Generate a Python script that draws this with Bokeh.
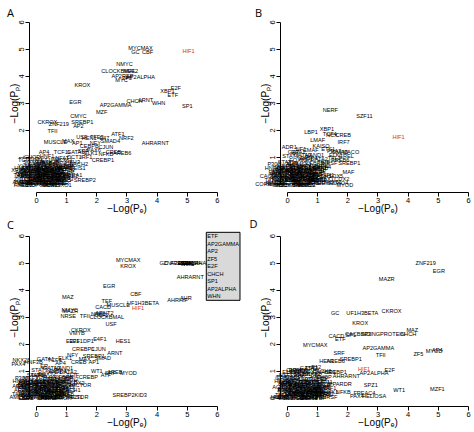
from bokeh.plotting import figure
from bokeh.models import ColumnDataSource, LabelSet, Label, FixedTicker
from bokeh.layouts import row, column
from bokeh.core.properties import value
from bokeh.embed import file_html
from bokeh.resources import INLINE

ticks = [0, 1, 2, 3, 4, 5, 6]
x_title = "\u2212Log(P\u2091)"
y_title = "\u2212Log(P\u209a)"
highlight = "HIF1"

# ---------------- Panel A ----------------
a_names = ["MYCMAX", "GC", "CBF", "HIF1", "NMYC", "CLOCKBMAL", "MEF2", "AP2ALPHA", "AP2REP", "ZF5",
           "MYC", "KROX", "E2F", "XBP1", "ETF", "EGR", "CHCH", "ARNT", "WHN", "SP1",
           "AP2GAMMA", "MZF", "CMYC", "SREBP1", "CKROX", "ZNF219", "AP2", "TFII", "ATF1", "NRF2",
           "AHRARNT", "MUSCLE", "MAX", "USF", "HEN1", "TFE3", "E47", "SMAD4", "AP1", "NFY",
           "CEBPB", "CJUN", "AREB6", "CREBP1", "CREB", "ELK1", "NFKB", "SRF", "AP4", "TCF11",
           "GATA1", "PAX6", "CHOP", "HNF1", "NFAT", "OCT1", "IRF1", "SREBP2", "RORA1", "MEIS1",
           "BACH2", "HFH3",
           "PBX1", "CDP", "TATA", "NF1", "YY1", "SOX9", "GFI1", "PU1", "STAT1", "STAT3",
           "STAT5A", "LHX3", "HOXA3", "MSX1", "NKX25", "PAX4", "HLF", "TEF", "DBP", "E4BP4",
           "CEBPA", "CEBP", "ATF3", "FOXO1", "FOXJ2", "HNF3B", "SRY", "CRX", "TST1", "IK2",
           "NKX61", "TGIF", "XFD1", "VDR", "RFX1", "EN1", "LMO2", "MYB", "HSF1", "CDX2",
           "BRN2", "OCT", "GATA2", "GATA3", "EVI1", "HAND1", "TAL1", "P53", "NFE2", "ER",
           "E12", "ZID", "HMX1", "COUPTF", "PPARG",
           "AML1", "ARP1", "BRACH", "CART1", "CHX10", "CREL", "EF2", "ETS1", "FOXD3", "GATA6",
           "HFH1", "HNF4", "LXR", "MEF3", "NRSF", "PEA3", "PAX2", "ROAZ", "RREB1", "RSRFC4",
           "SOX5", "TBP", "XBP", "ZIC", "AHR", "ALX4", "BARX2", "DLX3", "GSC", "HB9",
           "ISL1", "LEF1", "MRF2", "NKX22", "OTX",
           "ACAAT", "AIRE", "ARNT1", "BCL6", "BLIMP1", "BRCA", "CAP", "CDC5", "CIZ", "CLOX2",
           "COMP1", "CP2", "CRE", "DEAF1", "E2A", "EBOX", "EGR3", "ELF1", "ERR1", "FAC1",
           "FXR", "GABP", "GCM", "GEN", "HEB", "HES", "HIC1", "HMGIY", "HOX13", "HTF",
           "IPF1", "IRF2", "IRF3", "ISRE", "KID3", "LUN2", "MAFB", "MINI19", "MTF1", "MYF5"]
a_x = [3.45, 3.28, 3.68, 5.04, 2.92, 2.72, 3.12, 3.45, 2.85, 3.00,
       2.82, 1.52, 4.62, 4.34, 4.52, 1.29, 3.25, 3.62, 4.05, 5.00,
       2.62, 2.16, 1.39, 1.52, 0.36, 0.74, 1.39, 0.53, 2.70, 2.98,
       3.94, 0.63, 1.05, 1.50, 1.75, 2.00, 2.25, 2.45, 1.35, 1.95,
       1.75, 2.30, 2.84, 2.20, 2.55, 1.80, 2.30, 1.55, 0.25, 0.85,
       1.30, 1.90, -0.15, 0.35, 0.85, 1.25, 1.65, 1.60, 1.20, 1.35,
       1.40, 1.20,
       -0.50, -0.35, -0.55, -0.30, -0.45, -0.20, 0.00, -0.10, 0.05, 0.15,
       0.30, 0.45, 0.30, 0.20, 0.45, 0.55, 0.65, 0.75, 0.80, 0.70,
       0.95, 1.00, 1.00, 0.85, 0.10, -0.20, 0.55, 0.40, 0.25, 0.60,
       0.90, -0.40, -0.60, 0.15, 0.35, 0.70, 0.50, 0.10, -0.05, 0.45,
       0.90, 0.75, 0.00, 0.25, 0.60, -0.25, 0.20, 1.10, 1.15, 0.95,
       0.05, -0.60, 0.65, -0.30, 0.35,
       -0.55, -0.40, -0.25, -0.10, 0.05, 0.20, 0.35, 0.50, 0.65, 0.80,
       0.95, -0.50, -0.30, -0.15, 0.00, 0.15, 0.30, 0.45, 0.60, 0.75,
       0.90, 1.05, -0.45, -0.20, 0.10, 0.25, 0.40, 0.55, 0.70, 0.85,
       -0.35, 0.00, 0.30, 0.60, 0.20,
       -0.40, -0.30, -0.20, -0.10, 0.00, 0.10, 0.20, 0.30, 0.40, 0.50,
       0.60, 0.70, 0.80, 0.90, -0.35, -0.25, -0.15, -0.05, 0.05, 0.15,
       0.25, 0.35, 0.45, 0.55, 0.65, 0.75, 0.85, -0.45, -0.20, 0.00,
       0.20, 0.40, 0.60, 0.80, -0.30, 0.10, 0.30, 0.50, 0.70, 0.90]
a_y = [5.07, 4.89, 4.89, 4.96, 4.48, 4.19, 4.20, 4.00, 4.02, 3.95,
       3.86, 3.70, 3.56, 3.47, 3.31, 3.07, 3.10, 3.12, 3.03, 2.89,
       2.93, 2.67, 2.52, 2.33, 2.33, 2.25, 2.15, 1.99, 1.86, 1.74,
       1.52, 1.59, 1.62, 1.75, 1.74, 1.75, 1.72, 1.62, 1.55, 1.55,
       1.42, 1.40, 1.16, 0.92, 1.20, 1.15, 1.12, 1.25, 1.20, 1.22,
       1.20, 1.28, 1.02, 1.05, 1.00, 1.02, 1.02, 0.15, 0.35, 0.60,
       0.75, 0.85,
       0.05, 0.20, 0.35, 0.50, 0.70, 0.85, 0.95, 0.65, 0.40, 0.15,
       0.05, 0.25, 0.45, 0.70, 0.85, 0.60, 0.35, 0.10, 0.55, 0.80,
       0.70, 0.45, 0.20, 0.00, 0.02, 0.30, 0.15, 0.55, 0.90, 0.95,
       0.90, 0.90, 0.55, 0.30, 0.30, 0.65, 0.45, 0.55, 0.15, 0.00,
       0.30, 0.45, 0.75, 0.60, 0.75, 0.08, 0.85, 0.55, 0.30, 0.05,
       0.25, 0.20, 0.50, 0.40, 0.75,
       0.10, 0.30, 0.50, 0.20, 0.60, 0.35, 0.15, 0.70, 0.25, 0.40,
       0.60, 0.60, 0.10, 0.70, 0.35, 0.55, 0.20, 0.10, 0.45, 0.30,
       0.15, 0.70, 0.40, 0.00, 0.80, 0.65, 0.05, 0.30, 0.20, 0.65,
       0.55, 0.05, 0.30, 0.05, 0.45,
       0.45, 0.10, 0.60, 0.30, 0.05, 0.50, 0.25, 0.60, 0.10, 0.35,
       0.05, 0.50, 0.25, 0.60, 0.30, 0.00, 0.45, 0.55, 0.20, 0.65,
       0.40, 0.00, 0.55, 0.25, 0.60, 0.20, 0.40, 0.00, 0.15, 0.30,
       0.10, 0.40, 0.20, 0.05, 0.60, 0.15, 0.50, 0.00, 0.35, 0.15]

# ---------------- Panel B ----------------
b_names = ["NERF", "SZF11", "HIF1", "LBP1", "XBP1", "TCF4", "NCX", "CREB", "IRF7", "LMAF",
           "KAISO", "CMAF", "MACO", "SREBP1", "MAF", "CACD", "CORE", "ADR1", "NF1", "GATA1",
           "ETS1", "PEA3", "SMAD", "TAL1", "ELK1", "CREL", "AREB6", "NRSF", "HNF4", "MYOD",
           "FOXO4", "NKX61", "PBX1", "SOX5", "GFI1", "CDX2",
           "TATA", "PAX6", "SRY", "CDP", "HSF1", "STAT1", "STAT3", "YY1", "NFAT", "SOX9",
           "EVI1", "FOXJ2", "HOXA3", "LHX3", "MSX1", "OCT1", "E4BP4", "DBP", "HLF", "TEF",
           "CEBPB", "CHOP", "IRF1", "GATA2", "NFKB", "BACH1", "TGIF", "MEIS1", "P300", "CRX",
           "EN1", "RFX1", "VDR", "GATA3", "HAND1", "E47", "NKX25", "ZID", "TST1", "HNF1",
           "PPARA", "LMO2", "XFD1", "ER", "E12", "BRN2",
           "AML1", "ARP1", "BRACH", "CART1", "CHX10", "CRELB", "EF2", "ETS2", "FOXD3", "GATA6",
           "HFH1", "HNF4A", "LXR", "MEF3", "NRSF2", "PEA3B", "PAX2", "ROAZ", "RREB1", "RSRFC4",
           "SOX5B", "TBP", "XBP", "ZIC", "AHR", "ALX4", "BARX2", "DLX3", "GSC", "HB9",
           "ISL1", "LEF1", "MRF2", "NKX22", "OTX",
           "ACAAT", "AIRE", "ARNT1", "BCL6", "BLIMP1", "BRCA", "CAP", "CDC5", "CIZ", "CLOX2",
           "COMP1", "CP2", "CRE", "DEAF1", "E2A", "EBOX", "EGR3", "ELF1", "ERR1", "FAC1",
           "FXR", "GABP", "GCM", "GEN", "HEB", "HES", "HIC1", "HMGIY", "HOX13", "HTF",
           "IPF1", "IRF2", "IRF3", "ISRE", "KID3", "LUN2", "MAFB", "MINI19", "MTF1", "MYF5"]
b_x = [1.42, 2.55, 3.68, 0.78, 1.31, 1.40, 1.47, 1.85, 1.86, 1.00,
       1.11, 0.77, 2.10, 2.05, 2.02, -0.66, -0.80, 0.06, 0.45, 0.30,
       1.35, 1.55, 1.75, 1.55, 1.60, 1.95, 1.75, 1.40, 1.20, 1.90,
       1.70, 1.50, 1.30, 1.60, 1.35, 1.80,
       -0.55, -0.40, -0.30, -0.15, -0.20, -0.05, 0.10, 0.00, 0.15, 0.25,
       0.30, 0.35, 0.45, 0.50, 0.55, 0.60, 0.70, 0.75, 0.80, 0.85,
       0.90, 0.95, 1.00, 1.05, 1.10, 1.15, 1.20, 1.25, -0.45, 0.20,
       0.40, 0.65, 0.15, 0.50, 0.90, 0.85, 0.05, 0.30, 0.70, 1.05,
       0.40, -0.25, 0.60, 0.25, -0.35, 1.15,
       -0.50, -0.35, -0.20, -0.05, 0.10, 0.25, 0.40, 0.55, 0.70, 0.85,
       1.00, -0.45, -0.25, -0.10, 0.05, 0.20, 0.35, 0.50, 0.65, 0.80,
       0.95, 1.10, -0.40, -0.15, 0.15, 0.30, 0.45, 0.60, 0.75, 0.90,
       -0.30, 0.05, 0.35, 0.65, 0.25,
       -0.30, -0.20, -0.10, 0.00, 0.10, 0.20, 0.30, 0.40, 0.50, 0.60,
       0.70, 0.80, 0.90, 1.00, -0.25, -0.15, -0.05, 0.05, 0.15, 0.25,
       0.35, 0.45, 0.55, 0.65, 0.75, 0.85, 0.95, -0.35, -0.10, 0.10,
       0.30, 0.50, 0.70, 0.90, -0.20, 0.20, 0.40, 0.60, 0.80, 1.05]
b_y = [2.77, 2.52, 1.75, 1.96, 2.05, 1.86, 1.84, 1.84, 1.57, 1.65,
       1.44, 1.28, 1.20, 0.79, 0.48, 0.33, 0.01, 1.40, 1.30, 1.20,
       1.30, 1.25, 1.20, 0.97, 1.10, 1.05, 0.90, 0.80, 0.65, 0.00,
       0.05, 0.10, 0.20, 0.30, 0.35, 0.20,
       0.15, 0.45, 0.00, 0.25, 0.60, 0.85, 1.05, 0.45, 0.15, 0.65,
       0.35, 0.90, 0.05, 0.50, 0.75, 0.25, 1.00, 0.55, 0.10, 0.35,
       0.80, 0.45, 0.15, 0.95, 0.60, 0.30, 0.85, 0.05, 0.75, 0.40,
       0.20, 0.70, 0.80, 1.10, 1.10, 0.20, 0.30, 0.05, 0.40, 0.40,
       0.60, 0.35, 0.95, 1.20, 0.20, 0.70,
       0.05, 0.25, 0.45, 0.15, 0.55, 0.30, 0.10, 0.65, 0.20, 0.40,
       0.55, 0.60, 0.10, 0.70, 0.30, 0.50, 0.20, 0.05, 0.45, 0.25,
       0.10, 0.50, 0.35, 0.00, 0.75, 0.60, 0.00, 0.30, 0.15, 0.65,
       0.50, 0.05, 0.35, 0.00, 0.45,
       0.40, 0.05, 0.55, 0.25, 0.00, 0.45, 0.20, 0.60, 0.10, 0.35,
       0.05, 0.50, 0.25, 0.60, 0.30, 0.00, 0.50, 0.65, 0.20, 0.70,
       0.40, 0.00, 0.55, 0.25, 0.60, 0.15, 0.40, 0.05, 0.15, 0.30,
       0.10, 0.40, 0.20, 0.05, 0.60, 0.15, 0.50, 0.00, 0.35, 0.15]

# ---------------- Panel C ----------------
c_names = ["MYCMAX", "KROX", "GC", "ZNF219", "ETF", "AP2GAMMA", "AP2", "ZF5", "E2F", "CHCH",
           "SP1", "AP2ALPHA", "WHN", "AHRARNT", "AHRHIF", "AHR", "EGR", "CBF", "MAZ", "TEF",
           "MUSCLE", "UF1H3BETA", "HIF1", "CACD", "NMYC", "MAZR", "NRSE", "TFII", "NRF1", "USF2",
           "ARNT2", "CLOCKBMAL", "USF", "CKROX", "VMYB", "E2F1", "E2F1DP1", "E4F1", "HES1", "CREBP1",
           "CJUN", "ARNT", "NFY", "MAX", "SREBP1", "SMAD", "CREB", "AP1", "NKX25", "PAX4",
           "HNF3B", "GATA1", "TCF4", "ELK1", "AP4", "WT1", "SRF", "AREB", "MYOD", "ATF",
           "CREBP", "GCFACTOR", "HNF1", "SREBP2KID3", "TBPFACTOR",
           "TATA", "PAX6", "SRY", "CDP", "HSF1", "STAT1", "STAT3", "YY1", "NFAT", "SOX9",
           "EVI1", "FOXJ2", "HOXA3", "LHX3", "MSX1", "OCT1", "E4BP4", "DBP", "HLF", "TEFB",
           "CEBPB", "CHOP", "IRF1", "GATA2", "NFKB", "BACH1", "TGIF", "MEIS1", "P300", "CRX",
           "EN1", "RFX1", "VDR", "GATA3", "HAND1", "E47", "ZID", "TST1", "PPARA", "LMO2",
           "XFD1", "ER", "E12", "BRN2", "CDX2",
           "AML1", "ARP1", "BRACH", "CART1", "CHX10", "CREL", "EF2", "ETS1", "FOXD3", "GATA6",
           "HFH1", "HNF4", "LXR", "MEF3", "NRSF", "PEA3", "PAX2", "ROAZ", "RREB1", "RSRFC4",
           "SOX5", "TBP", "XBP", "ZIC", "AHRB", "ALX4", "BARX2", "DLX3", "GSC", "HB9",
           "ISL1", "LEF1", "MRF2", "NKX22", "OTX",
           "ACAAT", "AIRE", "ARNT1", "BCL6", "BLIMP1", "BRCA", "CAP", "CDC5", "CIZ", "CLOX2",
           "COMP1", "CP2", "CRE", "DEAF1", "E2A", "EBOX", "EGR3", "ELF1", "ERR1", "FAC1",
           "FXR", "GABP", "GCM", "GEN", "HEB", "HES", "HIC1", "HMGIY", "HOX13", "HTF",
           "IPF1", "IRF2", "IRF3", "ISRE", "KID3", "LUN2", "MAFB", "MINI19", "MTF1", "MYF5"]
c_x = [3.04, 3.04, 4.22, 4.55, 4.85, 4.95, 5.05, 4.90, 5.00, 5.10,
       4.95, 5.15, 5.00, 5.10, 4.68, 4.95, 2.41, 3.29, 1.04, 2.33,
       2.71, 3.53, 3.37, 2.21, 1.10, 1.12, 1.05, 1.60, 2.05, 2.15,
       2.25, 2.33, 2.47, 1.47, 1.34, 1.20, 1.50, 2.10, 2.87, 1.55,
       2.05, 2.60, 1.20, 1.60, 1.90, 2.20, 1.40, 1.90, -0.50, -0.60,
       -0.10, 0.30, 0.60, 0.95, 0.80, 2.00, 2.45, 2.60, 3.05, 2.30,
       1.72, 1.30, 1.05, 3.09, 1.17,
       -0.60, -0.45, -0.30, -0.15, -0.20, -0.05, 0.10, 0.00, 0.15, 0.25,
       0.30, 0.35, 0.45, 0.50, 0.55, 0.60, 0.70, 0.75, 0.80, 0.85,
       0.90, 0.95, 1.00, 1.05, 1.10, 1.15, 1.20, 1.25, -0.50, 0.20,
       0.40, 0.65, 0.15, 0.50, 0.90, 0.85, 0.30, 0.70, 0.40, -0.25,
       0.60, 0.25, -0.35, 1.15, 1.35,
       -0.65, -0.50, -0.30, -0.15, 0.00, 0.15, 0.30, 0.45, 0.60, 0.75,
       0.90, -0.55, -0.35, -0.20, -0.05, 0.10, 0.25, 0.40, 0.55, 0.70,
       0.85, 1.00, -0.45, -0.25, 0.05, 0.20, 0.35, 0.50, 0.65, 0.80,
       -0.40, -0.10, 0.20, 0.50, 1.10,
       -0.50, -0.40, -0.30, -0.20, -0.10, 0.00, 0.10, 0.20, 0.30, 0.40,
       0.50, 0.60, 0.70, 0.80, -0.45, -0.35, -0.25, -0.15, -0.05, 0.05,
       0.15, 0.25, 0.35, 0.45, 0.55, 0.65, 0.75, 0.90, -0.30, -0.10,
       0.10, 0.30, 0.50, 0.70, -0.40, 0.00, 0.20, 0.40, 0.60, 1.00]
c_y = [5.12, 4.90, 5.00, 5.00, 5.00, 5.02, 4.98, 5.00, 5.00, 5.01,
       4.99, 5.00, 4.98, 4.49, 3.62, 3.72, 4.14, 3.87, 3.73, 3.58,
       3.46, 3.54, 3.32, 3.36, 3.27, 3.22, 3.05, 3.04, 3.12, 3.08,
       3.15, 3.00, 2.76, 2.51, 2.41, 2.12, 2.10, 2.18, 2.10, 1.82,
       1.82, 1.67, 1.60, 1.45, 1.55, 1.50, 1.35, 1.35, 1.40, 1.25,
       1.35, 1.45, 1.40, 1.50, 1.30, 0.99, 0.93, 0.95, 0.93, 0.85,
       0.78, 0.47, 0.30, 0.13, 0.03,
       0.15, 0.45, 0.00, 0.25, 0.60, 0.85, 1.05, 0.45, 0.15, 0.65,
       0.35, 0.90, 0.05, 0.50, 0.75, 0.25, 1.00, 0.55, 0.10, 0.35,
       0.80, 0.45, 0.15, 0.95, 0.60, 0.30, 0.85, 0.05, 0.75, 0.40,
       0.20, 0.70, 0.80, 1.10, 1.10, 0.20, 0.05, 0.40, 0.60, 0.35,
       0.95, 1.20, 0.20, 0.70, 0.55,
       0.05, 0.30, 0.50, 0.15, 0.60, 0.35, 0.10, 0.70, 0.20, 0.45,
       0.60, 0.65, 0.10, 0.75, 0.35, 0.50, 0.20, 0.05, 0.45, 0.25,
       0.10, 0.75, 0.40, 0.00, 0.85, 0.60, 0.00, 0.30, 0.15, 0.65,
       0.55, 0.05, 0.30, 0.05, 0.40,
       0.45, 0.10, 0.60, 0.30, 0.05, 0.50, 0.25, 0.60, 0.10, 0.35,
       0.05, 0.50, 0.25, 0.60, 0.30, 0.00, 0.45, 0.55, 0.20, 0.65,
       0.40, 0.00, 0.55, 0.25, 0.60, 0.20, 0.40, 0.00, 0.15, 0.30,
       0.10, 0.40, 0.20, 0.05, 0.60, 0.15, 0.50, 0.00, 0.35, 0.15]

# ---------------- Panel D ----------------
d_names = ["ZNF219", "EGR", "MAZR", "GC", "UF1H3BETA", "CKROX", "KROX", "CACD", "CACBINDINGPROTEIN", "SP1",
           "SP3", "ETF", "CHCH", "MAZ", "MYCMAX", "AP2GAMMA", "TFII", "ZF5", "MYOD", "AP4",
           "SRF", "SREBP1", "HEN1", "AREB6", "HIF1", "AP2ALPHA", "AHRARNT", "CREBP1", "E2F", "SPZ1",
           "WT1", "MZF1", "PPARDR", "IRF1", "IK1", "NFKB", "PAX4", "FREAC4", "HELIOSA", "TBP",
           "NRSF", "CLOX", "LUN1", "GFI1", "ELK1",
           "TATA", "PAX6", "SRY", "CDP", "HSF1", "STAT1", "STAT3", "YY1", "NFAT", "SOX9",
           "EVI1", "FOXJ2", "HOXA3", "LHX3", "MSX1", "OCT1", "E4BP4", "DBP", "HLF", "TEF",
           "CEBPB", "CHOP", "GATA2", "NFKAPPAB", "BACH1", "TGIF", "MEIS1", "P300", "CRX", "EN1",
           "RFX1", "VDR", "GATA3", "HAND1", "E47", "ZID", "TST1", "PPARA", "LMO2", "XFD1",
           "ER", "E12", "BRN2", "CDX2", "NF1",
           "AML1", "ARP1", "BRACH", "CART1", "CHX10", "CREL", "EF2", "ETS1", "FOXD3", "GATA6",
           "HFH1", "HNF4", "LXR", "MEF3", "NRSF2", "PEA3", "PAX2", "ROAZ", "RREB1", "RSRFC4",
           "SOX5", "TBP2", "XBP", "ZIC", "AHR", "ALX4", "BARX2", "DLX3", "GSC", "HB9",
           "ISL1", "LEF1", "MRF2", "NKX22", "OTX",
           "ACAAT", "AIRE", "ARNT1", "BCL6", "BLIMP1", "BRCA", "CAP", "CDC5", "CIZ", "CLOX2",
           "COMP1", "CP2", "CRE", "DEAF1", "E2A", "EBOX", "EGR3", "ELF1", "ERR1", "FAC1",
           "FXR", "GABP", "GCM", "GEN", "HEB", "HES", "HIC1", "HMGIY", "HOX13", "HTF",
           "IPF1", "IRF2", "IRF3", "ISRE", "KID3", "LUN2", "MAFB", "MINI19", "MTF1", "MYF5"]
d_x = [4.58, 5.02, 3.29, 1.58, 2.48, 3.45, 2.41, 1.62, 2.90, 2.10,
       2.60, 1.75, 4.00, 4.14, 0.92, 3.01, 3.09, 4.34, 4.86, 4.97,
       1.71, 2.10, 1.30, 1.60, 2.54, 2.87, 1.95, 1.60, 3.39, 2.76,
       3.70, 4.97, 1.75, 1.42, 1.55, 1.85, 2.30, 2.55, 2.87, 1.10,
       1.40, 0.21, 0.32, -0.20, 0.05,
       -0.20, -0.10, 0.00, 0.10, -0.05, 0.20, 0.35, 0.15, 0.30, 0.45,
       0.55, 0.40, 0.65, 0.60, 0.75, 0.80, 0.90, 0.95, 1.00, 1.05,
       1.10, 1.20, 0.70, 0.85, 1.15, 1.25, 0.50, 0.25, 0.05, 0.45,
       0.70, 0.90, 1.00, 1.30, 0.60, -0.15, 0.80, 0.35, 1.20, 0.15,
       0.55, 0.95, 1.30, 0.75, 0.25,
       -0.25, -0.10, 0.05, 0.20, 0.35, 0.50, 0.65, 0.80, 0.95, 1.10,
       1.25, -0.20, 0.00, 0.15, 0.30, 0.45, 0.60, 0.75, 0.90, 1.05,
       1.20, -0.15, 0.10, 0.25, 0.40, 0.55, 0.70, 0.85, 1.00, 1.15,
       -0.05, 0.20, 0.50, 0.80, 1.10,
       -0.20, -0.10, 0.00, 0.10, 0.20, 0.30, 0.40, 0.50, 0.60, 0.70,
       0.80, 0.90, 1.00, 1.10, -0.15, -0.05, 0.05, 0.15, 0.25, 0.35,
       0.45, 0.55, 0.65, 0.75, 0.85, 0.95, 1.05, -0.25, 0.00, 0.20,
       0.40, 0.60, 0.80, 1.00, -0.10, 0.30, 0.50, 0.70, 0.90, 1.15]
d_y = [4.99, 4.72, 4.41, 3.14, 3.17, 3.23, 2.77, 2.31, 2.37, 2.35,
       2.38, 2.20, 2.38, 2.53, 1.97, 1.84, 1.60, 1.64, 1.75, 1.78,
       1.66, 1.45, 1.38, 1.37, 1.07, 0.92, 0.83, 0.96, 1.04, 0.49,
       0.30, 0.33, 0.53, 0.36, 0.22, 0.22, 0.08, 0.20, 0.06, 0.02,
       0.05, 1.05, 0.90, 0.75, 0.95,
       0.10, 0.35, 0.55, 0.20, 0.85, 0.05, 0.30, 0.65, 0.75, 0.15,
       0.45, 1.00, 0.25, 0.70, 0.05, 0.55, 0.30, 0.85, 0.10, 0.60,
       0.40, 0.80, 1.10, 0.20, 1.00, 0.50, 0.90, 0.45, 0.60, 0.35,
       0.15, 0.40, 0.70, 0.95, 0.00, 0.40, 1.12, 1.05, 0.25, 0.25,
       0.60, 1.15, 0.15, 0.95, 0.05,
       0.05, 0.30, 0.50, 0.15, 0.60, 0.35, 0.10, 0.70, 0.20, 0.45,
       0.60, 0.65, 0.10, 0.75, 0.35, 0.50, 0.20, 0.05, 0.45, 0.25,
       0.10, 0.80, 0.40, 0.00, 0.85, 0.60, 0.00, 0.30, 0.15, 0.75,
       0.55, 0.95, 1.00, 0.90, 0.35,
       0.40, 0.05, 0.55, 0.25, 0.00, 0.45, 0.20, 0.60, 0.10, 0.35,
       0.05, 0.50, 0.25, 0.60, 0.30, 0.00, 0.50, 0.65, 0.20, 0.70,
       0.40, 0.00, 0.55, 0.25, 0.60, 0.15, 0.40, 0.05, 0.15, 0.30,
       0.10, 0.40, 0.20, 0.05, 0.60, 0.15, 0.50, 0.00, 0.35, 0.15]

c_box_items = ["ETF", "AP2GAMMA", "AP2", "ZF5", "E2F", "CHCH", "SP1", "AP2ALPHA", "WHN"]

LABEL_FONT = "Liberation Sans"


def make_panel(letter, names, xs, ys, width, height, xr, yr, yaxis_at, xaxis_at, letter_xy):
    p = figure(width=width, height=height, x_range=xr, y_range=yr,
               output_backend="svg", toolbar_location=None,
               min_border_left=0, min_border_right=0, min_border_top=0, min_border_bottom=0)
    p.grid.visible = False
    p.outline_line_color = None
    p.background_fill_color = "white"
    p.border_fill_color = "white"

    for ax in (p.xaxis[0], p.yaxis[0]):
        ax.bounds = (0, 6)
        ax.ticker = FixedTicker(ticks=ticks)
        ax.axis_line_color = "black"
        ax.major_tick_line_color = "black"
        ax.major_tick_out = 4
        ax.major_tick_in = 0
        ax.minor_tick_line_color = None
        ax.major_label_text_font = LABEL_FONT
        ax.major_label_text_font_size = "7.5px"
        ax.major_label_text_color = "black"
        ax.major_label_standoff = 2
        ax.axis_label_text_font = LABEL_FONT
        ax.axis_label_text_font_size = "10px"
        ax.axis_label_text_font_style = "normal"
        ax.axis_label_text_color = "black"
        ax.axis_label_standoff = -4
    p.xaxis.axis_label = x_title
    p.yaxis.axis_label = y_title
    p.yaxis.major_label_orientation = "vertical"
    p.yaxis.fixed_location = yaxis_at
    p.xaxis.fixed_location = xaxis_at

    colors = ["#cc3333" if n == highlight else "black" for n in names]
    src = ColumnDataSource(dict(x=xs, y=ys, name=names, color=colors))
    labels = LabelSet(x="x", y="y", text="name", source=src, text_align="center",
                      text_baseline="middle", text_font=value(LABEL_FONT),
                      text_font_size="5.6px", text_color="color")
    p.add_layout(labels)

    p.add_layout(Label(x=letter_xy[0], y=letter_xy[1], text=letter, text_align="center",
                       text_baseline="middle", text_font="Open Sans",
                       text_font_size="11px", text_color="black"))
    return p


pA = make_panel("A", a_names, a_x, a_y, 244, 216, (-1.194, 6.897), (-1.185, 6.815), -0.232, -0.296, (-0.862, 6.37))
pB = make_panel("B", b_names, b_x, b_y, 230, 216, (-1.426, 6.2), (-1.185, 6.815), -0.232, -0.296, (-0.962, 6.37))
pC = make_panel("C", c_names, c_x, c_y, 244, 216, (-1.194, 6.897), (-1.274, 6.726), -0.232, -0.311, (-0.862, 6.43))
pD = make_panel("D", d_names, d_x, d_y, 230, 216, (-1.426, 6.2), (-1.274, 6.726), -0.232, -0.311, (-1.127, 6.46))

pC.add_layout(Label(x=5.63, y=6.14, text="\n".join(c_box_items), text_align="left",
                    text_baseline="top", text_font=LABEL_FONT, text_font_size="5.6px",
                    text_line_height=1.25, text_color="black",
                    background_fill_color="#d9d9d9", border_line_color="black",
                    border_line_width=1, padding=1))

layout = column(row(pA, pB), row(pC, pD))

with open("out.html", "w") as f:
    f.write(file_html(layout, INLINE))
